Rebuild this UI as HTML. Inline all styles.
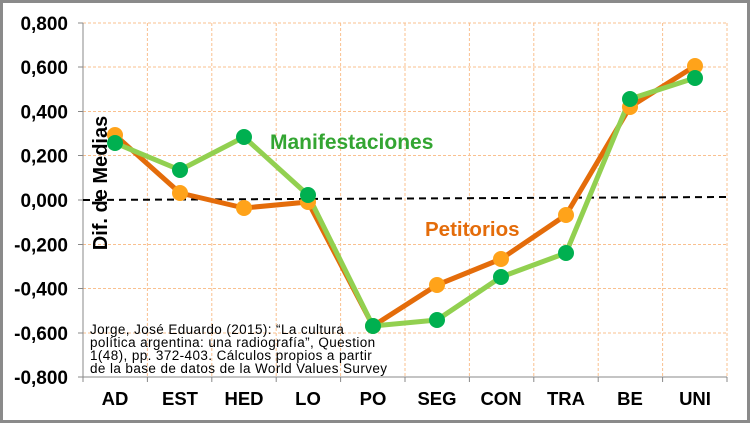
<!DOCTYPE html>
<html><head><meta charset="utf-8"><style>
body{margin:0;width:750px;height:423px;overflow:hidden;background:#fff}
svg{display:block;font-family:"Liberation Sans",Arial,sans-serif}
</style></head><body>
<svg width="750" height="423" viewBox="0 0 750 423">
<rect x="1.5" y="1.5" width="747" height="420" fill="#fff" stroke="#8a8a8a" stroke-width="3"/>
<g stroke="#f9c08f" stroke-width="1" stroke-dasharray="3,2">
<line x1="83" y1="23" x2="727" y2="23"/><line x1="83" y1="67" x2="727" y2="67"/><line x1="83" y1="111.5" x2="727" y2="111.5"/><line x1="83" y1="155.5" x2="727" y2="155.5"/><line x1="83" y1="244.5" x2="727" y2="244.5"/><line x1="83" y1="288.5" x2="727" y2="288.5"/><line x1="83" y1="333" x2="727" y2="333"/>
<line x1="147.4" y1="23" x2="147.4" y2="377"/><line x1="211.8" y1="23" x2="211.8" y2="377"/><line x1="276.2" y1="23" x2="276.2" y2="377"/><line x1="340.6" y1="23" x2="340.6" y2="377"/><line x1="405" y1="23" x2="405" y2="377"/><line x1="469.4" y1="23" x2="469.4" y2="377"/><line x1="533.8" y1="23" x2="533.8" y2="377"/><line x1="598.2" y1="23" x2="598.2" y2="377"/><line x1="662.6" y1="23" x2="662.6" y2="377"/><line x1="727" y1="23" x2="727" y2="377"/>
</g>
<g stroke="#888" stroke-width="1">
<line x1="83" y1="23" x2="83" y2="377"/><line x1="83" y1="377" x2="727" y2="377"/>
<line x1="78" y1="23" x2="83" y2="23"/><line x1="78" y1="67" x2="83" y2="67"/><line x1="78" y1="111.5" x2="83" y2="111.5"/><line x1="78" y1="155.5" x2="83" y2="155.5"/><line x1="78" y1="200" x2="83" y2="200"/><line x1="78" y1="244.5" x2="83" y2="244.5"/><line x1="78" y1="288.5" x2="83" y2="288.5"/><line x1="78" y1="333" x2="83" y2="333"/><line x1="78" y1="377" x2="83" y2="377"/>
<line x1="147.4" y1="377" x2="147.4" y2="382"/><line x1="211.8" y1="377" x2="211.8" y2="382"/><line x1="276.2" y1="377" x2="276.2" y2="382"/><line x1="340.6" y1="377" x2="340.6" y2="382"/><line x1="405" y1="377" x2="405" y2="382"/><line x1="469.4" y1="377" x2="469.4" y2="382"/><line x1="533.8" y1="377" x2="533.8" y2="382"/><line x1="598.2" y1="377" x2="598.2" y2="382"/><line x1="662.6" y1="377" x2="662.6" y2="382"/><line x1="727" y1="377" x2="727" y2="382"/><line x1="83" y1="377" x2="83" y2="382"/>
</g>
<g font-size="19" font-weight="bold" text-anchor="end" fill="#000">
<text x="68" y="30">0,800</text><text x="68" y="74">0,600</text><text x="68" y="118.5">0,400</text><text x="68" y="162.5">0,200</text><text x="68" y="207">0,000</text><text x="68" y="251.5">-0,200</text><text x="68" y="295.5">-0,400</text><text x="68" y="340">-0,600</text><text x="68" y="384">-0,800</text>
</g>
<g font-size="18.5" font-weight="bold" text-anchor="middle" fill="#000">
<text x="115" y="405">AD</text><text x="180" y="405">EST</text><text x="244" y="405">HED</text><text x="308" y="405">LO</text><text x="373" y="405">PO</text><text x="437" y="405">SEG</text><text x="501" y="405">CON</text><text x="566" y="405">TRA</text><text x="630" y="405">BE</text><text x="695" y="405">UNI</text>
</g>
<line x1="83" y1="200" x2="727" y2="197" stroke="#000" stroke-width="2" stroke-dasharray="7,5"/>
<text transform="translate(107,183) rotate(-90)" font-size="20" font-weight="bold" text-anchor="middle">Dif. de Medias</text>
<polyline fill="none" stroke="#e46c0a" stroke-width="5" stroke-linejoin="round" points="115,135 180,193 244,208 308,202 373,326 437,285 501,259 566,215 630,107 695,66"/>
<polyline fill="none" stroke="#92d050" stroke-width="5" stroke-linejoin="round" points="115,143 180,170 244,137 308,195 373,326 437,320 501,277 566,253 630,99 695,78"/>
<g fill="#ffa31a">
<circle cx="115" cy="135" r="8"/><circle cx="180" cy="193" r="8"/><circle cx="244" cy="208" r="8"/><circle cx="308" cy="202" r="8"/><circle cx="373" cy="326" r="8"/><circle cx="437" cy="285" r="8"/><circle cx="501" cy="259" r="8"/><circle cx="566" cy="215" r="8"/><circle cx="630" cy="107" r="8"/><circle cx="695" cy="66" r="8"/>
</g>
<g fill="#00b050">
<circle cx="115" cy="143" r="8"/><circle cx="180" cy="170" r="8"/><circle cx="244" cy="137" r="8"/><circle cx="308" cy="195" r="8"/><circle cx="373" cy="326" r="8"/><circle cx="437" cy="320" r="8"/><circle cx="501" cy="277" r="8"/><circle cx="566" cy="253" r="8"/><circle cx="630" cy="99" r="8"/><circle cx="695" cy="78" r="8"/>
</g>
<text x="270" y="149" font-size="21" font-weight="bold" style="fill:#33a532">Manifestaciones</text>
<text x="425" y="236" font-size="20.5" font-weight="bold" fill="#e46c0a">Petitorios</text>
<g font-size="13.5" fill="#000" letter-spacing="0.4">
<text x="90" y="334">Jorge, José Eduardo (2015): “La cultura</text>
<text x="90" y="347">política argentina: una radiografía”, Question</text>
<text x="90" y="360">1(48), pp. 372-403. Cálculos propios a partir</text>
<text x="90" y="373">de la base de datos de la World Values Survey</text>
</g>
</svg>
</body></html>
